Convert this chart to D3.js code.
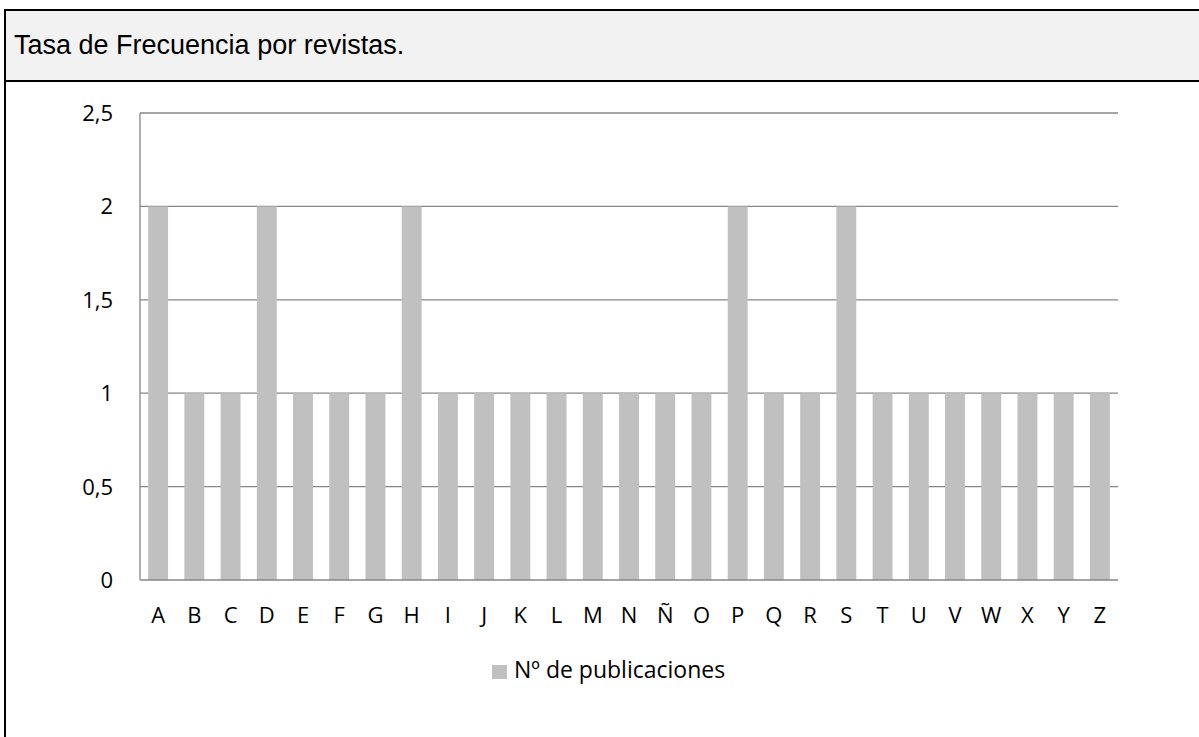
<!DOCTYPE html>
<html><head><meta charset="utf-8">
<script src="https://cdn.jsdelivr.net/npm/d3@7"></script>
<style>body{margin:0;background:#fff}svg{display:block}</style>
</head><body>
<svg id="c" width="1199" height="737"></svg>
<script>
const categories = ["A","B","C","D","E","F","G","H","I","J","K","L","M","N","Ñ","O","P","Q","R","S","T","U","V","W","X","Y","Z"];
const values = [2,1,1,2,1,1,1,2,1,1,1,1,1,1,1,1,2,1,1,2,1,1,1,1,1,1,1];
const yTicks = [0,0.5,1,1.5,2,2.5];
const seriesName = "Nº de publicaciones";
const title = "Tasa de Frecuencia por revistas.";

const svg = d3.select("#c");
// outer frame
svg.append("rect").attr("x",5).attr("y",10).attr("width",1210).attr("height",740)
  .attr("fill","#fff").attr("stroke","#000").attr("stroke-width",2);
svg.append("rect").attr("x",5).attr("y",10).attr("width",1210).attr("height",71)
  .attr("fill","#f2f2f2").attr("stroke","#000").attr("stroke-width",2);
svg.append("text").attr("x",14).attr("y",54).text(title)
  .attr("font-family","Liberation Sans, Arial").attr("font-size",27).attr("fill","#000");

const L=140,R=1118,T=113,B=580;
const x = d3.scaleBand().domain(categories).range([L,R]).paddingInner(0.45).paddingOuter(0.225);
const y = d3.scaleLinear().domain([0,2.5]).range([B,T]);
const font = "Open Sans, Lato, sans-serif";

const g = svg.append("g");
g.selectAll("line.grid").data(yTicks.filter(d=>d>0)).join("line")
  .attr("x1",L).attr("x2",R).attr("y1",d=>y(d)).attr("y2",d=>y(d))
  .attr("stroke","#868686").attr("stroke-width",1.3);

g.selectAll("rect.bar").data(values).join("rect")
  .attr("x",(d,i)=>x(categories[i])).attr("width",x.bandwidth())
  .attr("y",d=>y(d)).attr("height",d=>y(0)-y(d)).attr("fill","#c0c0c0");

g.append("line").attr("x1",L).attr("x2",L).attr("y1",T).attr("y2",B).attr("stroke","#868686").attr("stroke-width",1.3);
g.append("line").attr("x1",L).attr("x2",R).attr("y1",B).attr("y2",B).attr("stroke","#868686").attr("stroke-width",1.3);

const fmt = d => String(d).replace(".",",");
g.selectAll("text.yl").data(yTicks).join("text")
  .attr("x",113).attr("y",d=>y(d)+8).attr("text-anchor","end")
  .attr("font-family",font).attr("font-size",22).text(fmt);
g.selectAll("text.xl").data(categories).join("text")
  .attr("x",d=>x(d)+x.bandwidth()/2).attr("y",623).attr("text-anchor","middle")
  .attr("font-family",font).attr("font-size",22).text(d=>d);

svg.append("rect").attr("x",492).attr("y",665).attr("width",15).attr("height",14).attr("fill","#c0c0c0");
svg.append("text").attr("x",514).attr("y",678).attr("font-family",font).attr("font-size",23).text(seriesName);
</script>
</body></html>
